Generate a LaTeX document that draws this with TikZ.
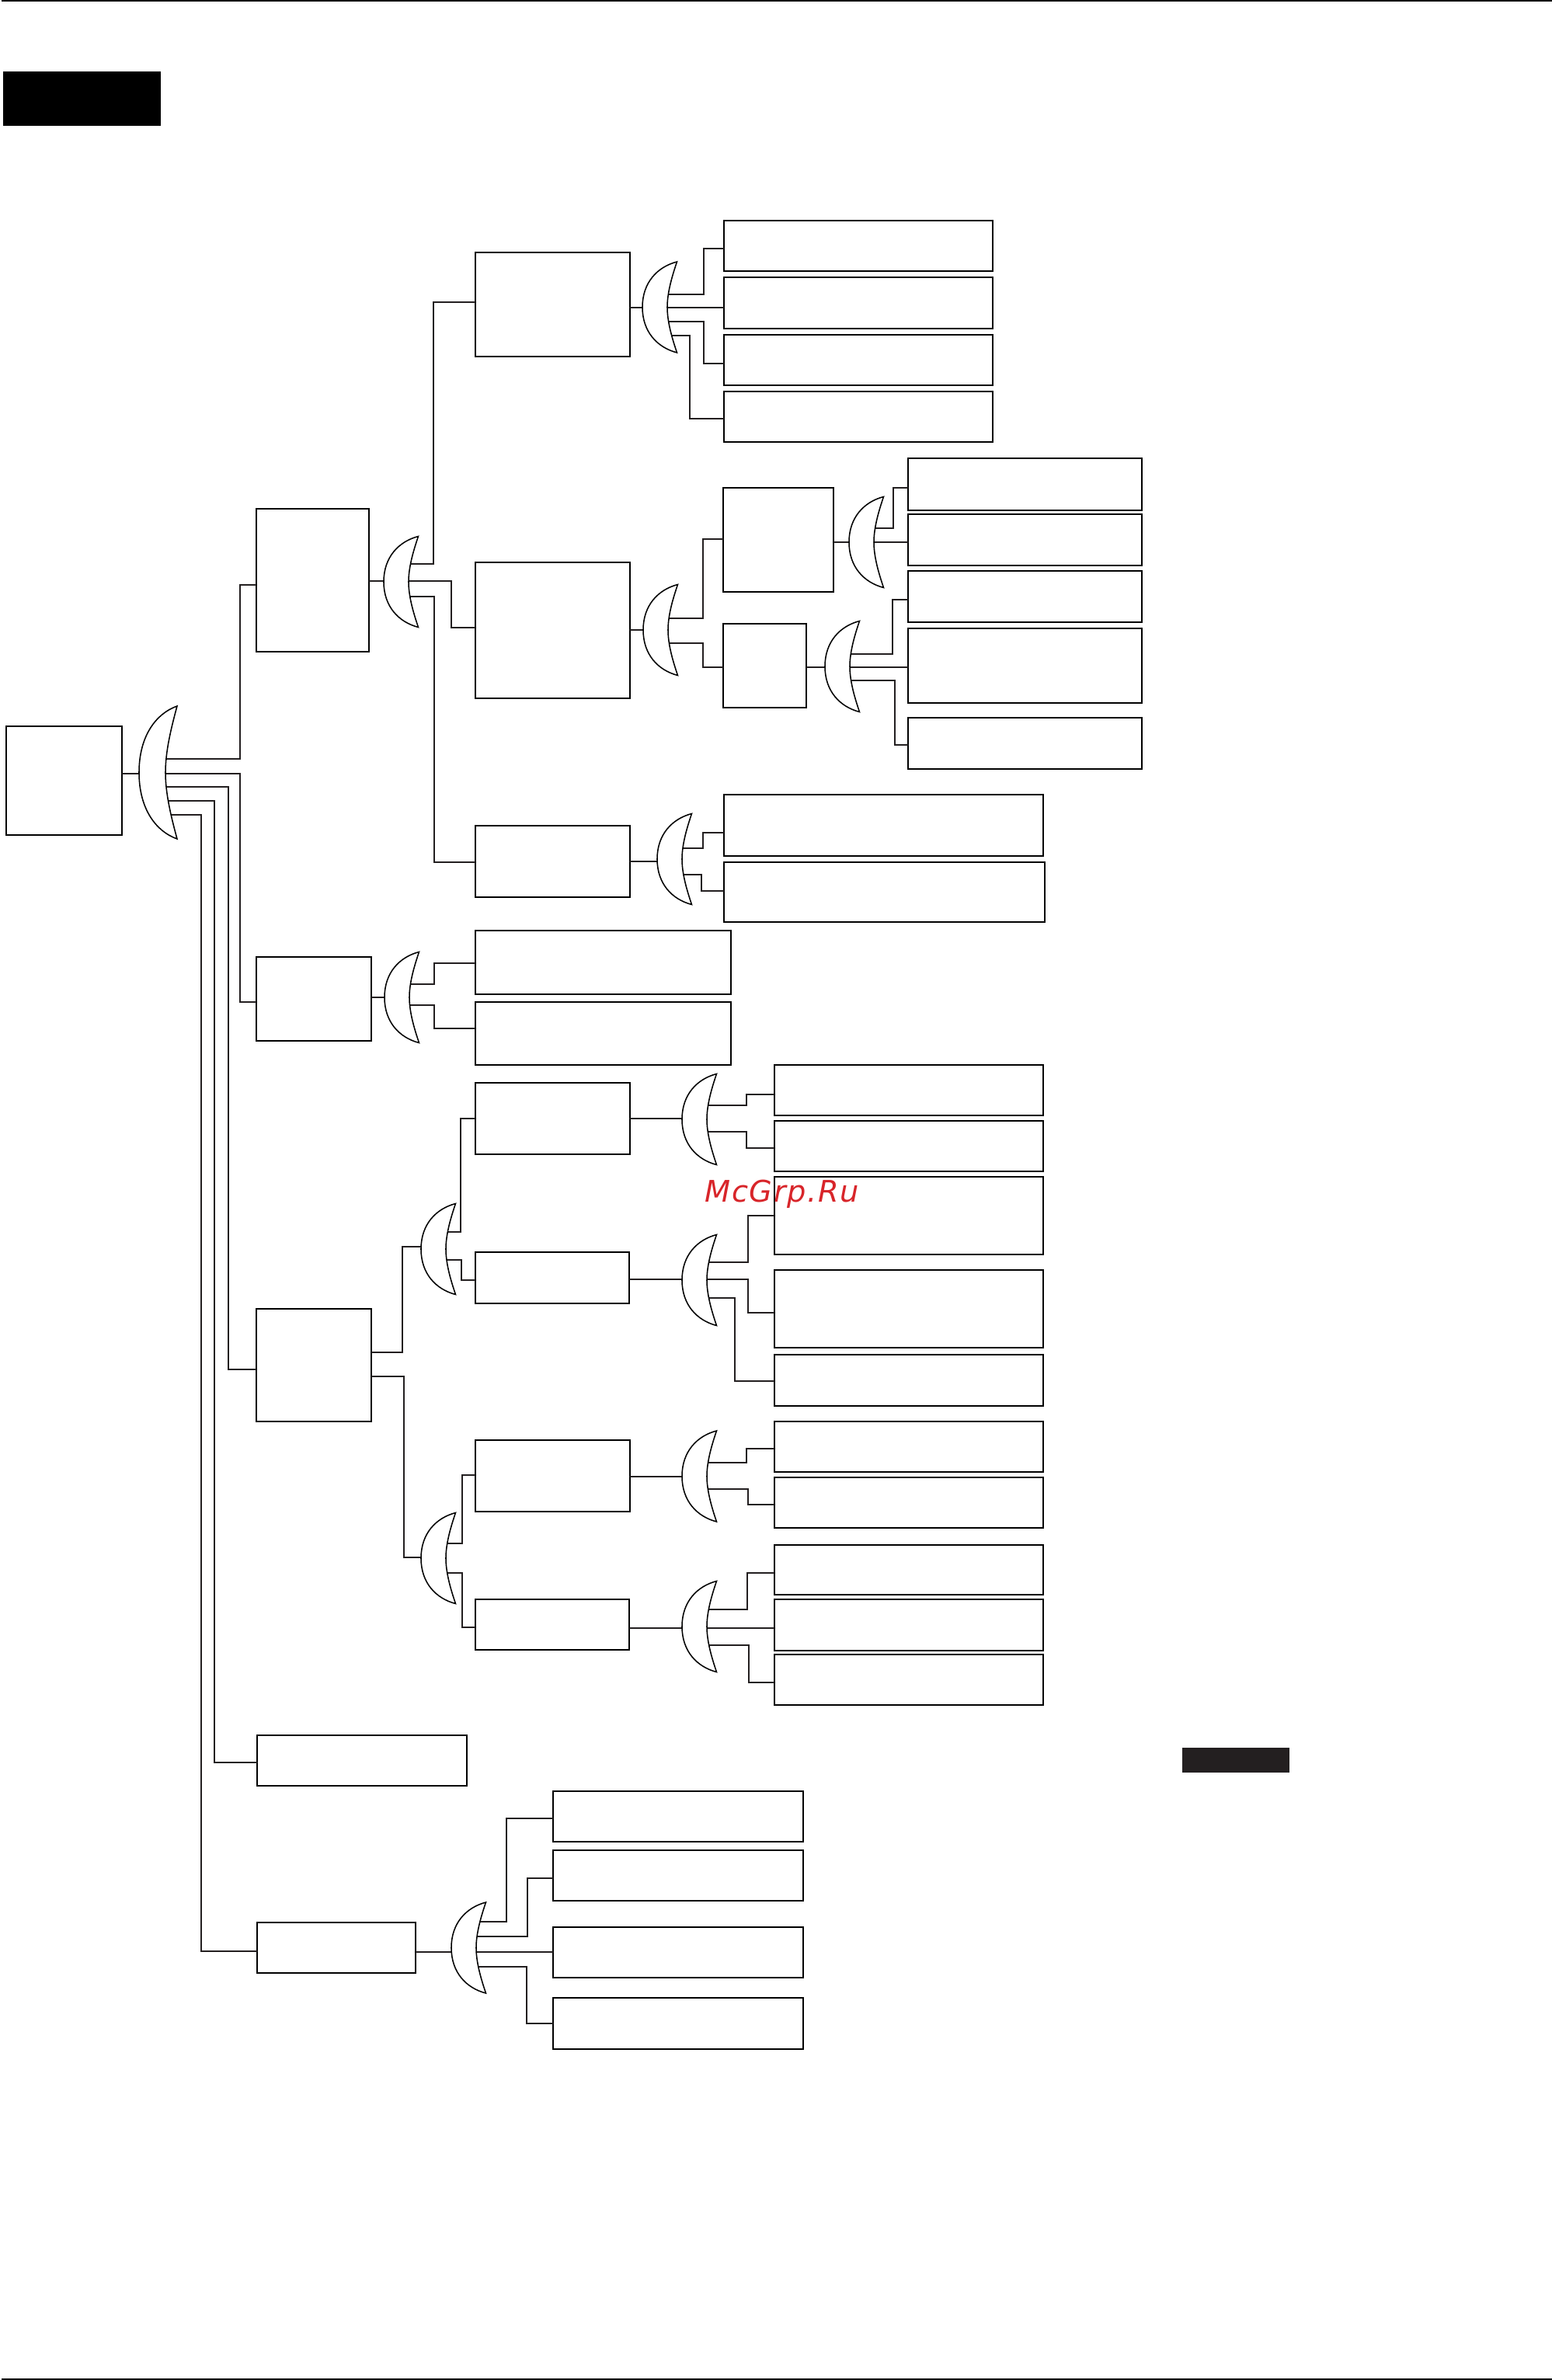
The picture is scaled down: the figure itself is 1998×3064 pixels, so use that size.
\documentclass[tikz,border=0pt]{standalone}
\usepackage{fontspec}
\setmainfont{DejaVu Sans}
\usepackage{tikz}
\definecolor{inkline}{HTML}{231F20}
\definecolor{markred}{HTML}{D8252A}
\tikzstyle{sized} = [minimum width=#1*0.01cm]
\tikzset{tall/.style={minimum height=#1*0.01cm}}
\tikzstyle{block} = [rectangle, draw, line width=0.5pt, outer sep=0pt, inner sep=0pt, anchor=north west]
\tikzstyle{solid block} = [rectangle, outer sep=0pt, inner sep=0pt, anchor=north west]
\tikzstyle{gate} = [rectangle, outer sep=0pt, inner sep=0pt, anchor=west, minimum width=44.5*0.01cm, minimum height=117*0.01cm]
\tikzstyle{line} = [draw, color=inkline, line width=0.46pt]
\tikzstyle{gate line} = [draw, line width=0.44pt, fill=white]

\begin{document}
\begin{tikzpicture}[x=0.01cm, y=-0.01cm]
    \useasboundingbox (0,0) rectangle (1998,3064);
    % Place nodes
    \node [solid block, fill=black, sized=1996, tall=2] (topRule) at (2,0) {};
    \node [solid block, fill=black, sized=1996, tall=2] (botRule) at (2,3062) {};
    \node [solid block, fill=black, sized=203, tall=70] (topBar) at (4,92) {};
    \node [solid block, fill=inkline, sized=138, tall=32] (sideBar) at (1522,2250) {};
    \node [block, sized=149, tall=140] (root) at (8,935) {};
    \node [block, sized=145, tall=184] (sysA) at (330,655) {};
    \node [block, sized=199, tall=134] (sysA1) at (612,325) {};
    \node [block, sized=346, tall=65] (leafA1a) at (932,284) {};
    \node [block, sized=346, tall=66] (leafA1b) at (932,357) {};
    \node [block, sized=346, tall=65] (leafA1c) at (932,431) {};
    \node [block, sized=346, tall=65] (leafA1d) at (932,504) {};
    \node [block, sized=199, tall=175] (sysA2) at (612,724) {};
    \node [block, sized=142, tall=134] (sysA2a) at (931,628) {};
    \node [block, sized=301, tall=67] (leafA2a) at (1169,590) {};
    \node [block, sized=301, tall=66] (leafA2b) at (1169,662) {};
    \node [block, sized=301, tall=66] (leafA2c) at (1169,735) {};
    \node [block, sized=301, tall=96] (leafA2d) at (1169,809) {};
    \node [block, sized=301, tall=66] (leafA2e) at (1169,924) {};
    \node [block, sized=107, tall=108] (sysA2b) at (931,803) {};
    \node [block, sized=199, tall=92] (sysA3) at (612,1063) {};
    \node [block, sized=411, tall=79] (leafA3a) at (932,1023) {};
    \node [block, sized=413, tall=77] (leafA3b) at (932,1110) {};
    \node [block, sized=148, tall=108] (sysB) at (330,1232) {};
    \node [block, sized=329, tall=82] (leafBa) at (612,1198) {};
    \node [block, sized=329, tall=81] (leafBb) at (612,1290) {};
    \node [block, sized=148, tall=145] (sysC) at (330,1685) {};
    \node [block, sized=199, tall=92] (sysC1) at (612,1394) {};
    \node [block, sized=346, tall=65] (leafC1a) at (997,1371) {};
    \node [block, sized=346, tall=65] (leafC1b) at (997,1443) {};
    \node [block, sized=198, tall=66] (sysC2) at (612,1612) {};
    \node [block, sized=346, tall=100] (leafC2a) at (997,1515) {};
    \node [block, sized=346, tall=100] (leafC2b) at (997,1635) {};
    \node [block, sized=346, tall=66] (leafC2c) at (997,1744) {};
    \node [block, sized=199, tall=92] (sysC3) at (612,1854) {};
    \node [block, sized=346, tall=65] (leafC3a) at (997,1830) {};
    \node [block, sized=346, tall=65] (leafC3b) at (997,1902) {};
    \node [block, sized=198, tall=65] (sysC4) at (612,2059) {};
    \node [block, sized=346, tall=64] (leafC4a) at (997,1989) {};
    \node [block, sized=346, tall=66] (leafC4b) at (997,2059) {};
    \node [block, sized=346, tall=65] (leafC4c) at (997,2130) {};
    \node [block, sized=270, tall=65] (sysD) at (331,2234) {};
    \node [block, sized=204, tall=65] (sysE) at (331,2475) {};
    \node [block, sized=322, tall=65] (leafEa) at (712,2306) {};
    \node [block, sized=322, tall=65] (leafEb) at (712,2382) {};
    \node [block, sized=322, tall=65] (leafEc) at (712,2481) {};
    \node [block, sized=322, tall=66] (leafEd) at (712,2572) {};
    % Place gates
    \node [gate, minimum width=49*0.01cm, minimum height=171*0.01cm] (orRoot) at (179,994.5) {};
    \foreach \name/\gx/\gy in {orA/494/749, orA1/827/395.5, orA2/828/811, orA2a/1093/698,
        orA2b/1062/858, orA3/846/1106, orB/495/1284, orC1/542/1608, orC2/542/2006,
        orC1a/878/1441, orC1b/878/1648, orC2a/878/1900.5, orC2b/878/2094, orE/581/2507.5}
        \node [gate] (\name) at (\gx,\gy) {};
    % Draw edges
    \path [line] (root.east |- 0,996) -- (orRoot.center |- 0,996);
    \path [line] (orRoot.center |- 0,977) -| (309,753) -- (sysA.west |- 0,753);
    \path [line] (orRoot.center |- 0,996) -| (309,1290) -- (sysB.west |- 0,1290);
    \path [line] (orRoot.center |- 0,1013) -| (294,1763) -- (sysC.west |- 0,1763);
    \path [line] (orRoot.center |- 0,1031) -| (276,2269) -- (sysD.west |- 0,2269);
    \path [line] (orRoot.center |- 0,1049) -| (259,2512) -- (sysE.west |- 0,2512);
    \path [line] (sysA.east |- 0,748) -- (orA.center |- 0,748);
    \path [line] (orA.center |- 0,726) -| (558,389) -- (sysA1.west |- 0,389);
    \path [line] (orA.center |- 0,748) -| (581,808) -- (sysA2.west |- 0,808);
    \path [line] (orA.center |- 0,768) -| (559,1110) -- (sysA3.west |- 0,1110);
    \path [line] (sysA1.east |- 0,396.2) -- (orA1.center |- 0,396.2);
    \path [line] (orA1.center |- 0,379) -| (906,320) -- (leafA1a.west |- 0,320);
    \path [line] (orA1.center |- 0,396.2) -- (leafA1b.west |- 0,396.2);
    \path [line] (orA1.center |- 0,414) -| (906,468) -- (leafA1c.west |- 0,468);
    \path [line] (orA1.center |- 0,432) -| (888,539) -- (leafA1d.west |- 0,539);
    \path [line] (sysA2.east |- orA2.center) -- (orA2.center);
    \path [line] (orA2.center |- 0,796) -| (905,694) -- (sysA2a.west |- 0,694);
    \path [line] (orA2.center |- 0,828) -| (905,859) -- (sysA2b.west |- 0,859);
    \path [line] (sysA2a.east |- orA2a.center) -- (orA2a.center);
    \path [line] (orA2a.center |- 0,680) -| (1150,628) -- (leafA2a.west |- 0,628);
    \path [line] (orA2a.center) -- (leafA2b.west |- orA2a.center);
    \path [line] (sysA2b.east |- 0,859) -- (orA2b.center |- 0,859);
    \path [line] (orA2b.center |- 0,842) -| (1149,772) -- (leafA2c.west |- 0,772);
    \path [line] (orA2b.center |- 0,859) -- (leafA2d.west |- 0,859);
    \path [line] (orA2b.center |- 0,876) -| (1152,959) -- (leafA2e.west |- 0,959);
    \path [line] (sysA3.east |- 0,1109) -- (orA3.center |- 0,1109);
    \path [line] (orA3.center |- 0,1092) -| (905,1072) -- (leafA3a.west |- 0,1072);
    \path [line] (orA3.center |- 0,1126) -| (903,1147) -- (leafA3b.west |- 0,1147);
    \path [line] (sysB.east |- orB.center) -- (orB.center);
    \path [line] (orB.center |- 0,1267) -| (559,1240) -- (leafBa.west |- 0,1240);
    \path [line] (orB.center |- 0,1294) -| (559,1324) -- (leafBb.west |- 0,1324);
    \path [line] (sysC.east |- 0,1741) -| (518,1605) -- (orC1.center |- 0,1605);
    \path [line] (sysC.east |- 0,1772) -| (520,2005) -- (orC2.center |- 0,2005);
    \path [line] (orC1.center |- 0,1586) -| (593,1440) -- (sysC1.west |- 0,1440);
    \path [line] (orC1.center |- 0,1622) -| (594,1648) -- (sysC2.west |- 0,1648);
    \path [line] (orC2.center |- 0,1987) -| (595,1899) -- (sysC3.west |- 0,1899);
    \path [line] (orC2.center |- 0,2025) -| (595,2095) -- (sysC4.west |- 0,2095);
    \path [line] (sysC1.east |- 0,1440) -- (orC1a.center |- 0,1440);
    \path [line] (orC1a.center |- 0,1423) -| (961,1409) -- (leafC1a.west |- 0,1409);
    \path [line] (orC1a.center |- 0,1457) -| (961,1478) -- (leafC1b.west |- 0,1478);
    \path [line] (sysC2.east |- 0,1647) -- (orC1b.center |- 0,1647);
    \path [line] (orC1b.center |- 0,1625) -| (963,1565) -- (leafC2a.west |- 0,1565);
    \path [line] (orC1b.center |- 0,1647) -| (963,1690) -- (leafC2b.west |- 0,1690);
    \path [line] (orC1b.center |- 0,1671) -| (946,1778) -- (leafC2c.west |- 0,1778);
    \path [line] (sysC3.east |- 0,1901) -- (orC2a.center |- 0,1901);
    \path [line] (orC2a.center |- 0,1883) -| (961,1865) -- (leafC3a.west |- 0,1865);
    \path [line] (orC2a.center |- 0,1917) -| (963,1937) -- (leafC3b.west |- 0,1937);
    \path [line] (sysC4.east |- 0,2096) -- (orC2b.center |- 0,2096);
    \path [line] (orC2b.center |- 0,2072) -| (962,2025) -- (leafC4a.west |- 0,2025);
    \path [line] (orC2b.center |- 0,2096) -- (leafC4b.west |- 0,2096);
    \path [line] (orC2b.center |- 0,2118) -| (964,2166) -- (leafC4c.west |- 0,2166);
    \path [line] (sysE.east |- 0,2513) -- (orE.center |- 0,2513);
    \path [line] (orE.center |- 0,2474) -| (652,2341) -- (leafEa.west |- 0,2341);
    \path [line] (orE.center |- 0,2493) -| (679,2418) -- (leafEb.west |- 0,2418);
    \path [line] (orE.center |- 0,2513) -- (leafEc.west |- 0,2513);
    \path [line] (orE.center |- 0,2532) -| (678,2605) -- (leafEd.west |- 0,2605);
    % Draw gate outlines over the edges
    \path [gate line] (orRoot.west) .. controls +(0,-47) and +(-27,9.5) .. (orRoot.north east)
        .. controls +(-8,29.5) and +(0,-27) .. ([xshift=34*0.01cm]orRoot.west)
        .. controls +(0,27) and +(-8,-29.5) .. (orRoot.south east)
        .. controls +(-27,-9.5) and +(0,47) .. (orRoot.west) -- cycle;
    \foreach \name in {orA, orA1, orA2, orA2a, orA2b, orA3, orB, orC1, orC2, orC1a, orC1b, orC2a, orC2b, orE}
        \path [gate line] (\name.west) .. controls +(0,-32) and +(-25,6.5) .. (\name.north east)
            .. controls +(-7,20.5) and +(0,-18) .. ([xshift=32*0.01cm]\name.west)
            .. controls +(0,18) and +(-7,-20.5) .. (\name.south east)
            .. controls +(-25,-6.5) and +(0,32) .. (\name.west) -- cycle;
    % Place the stamp
    \node [anchor=base west, inner sep=0pt, text=markred, font=\fontsize{10.9pt}{12pt}\selectfont\itshape\addfontfeature{LetterSpace=4}] (stamp) at (907,1547) {McGrp.Ru};
\end{tikzpicture}
\end{document}
